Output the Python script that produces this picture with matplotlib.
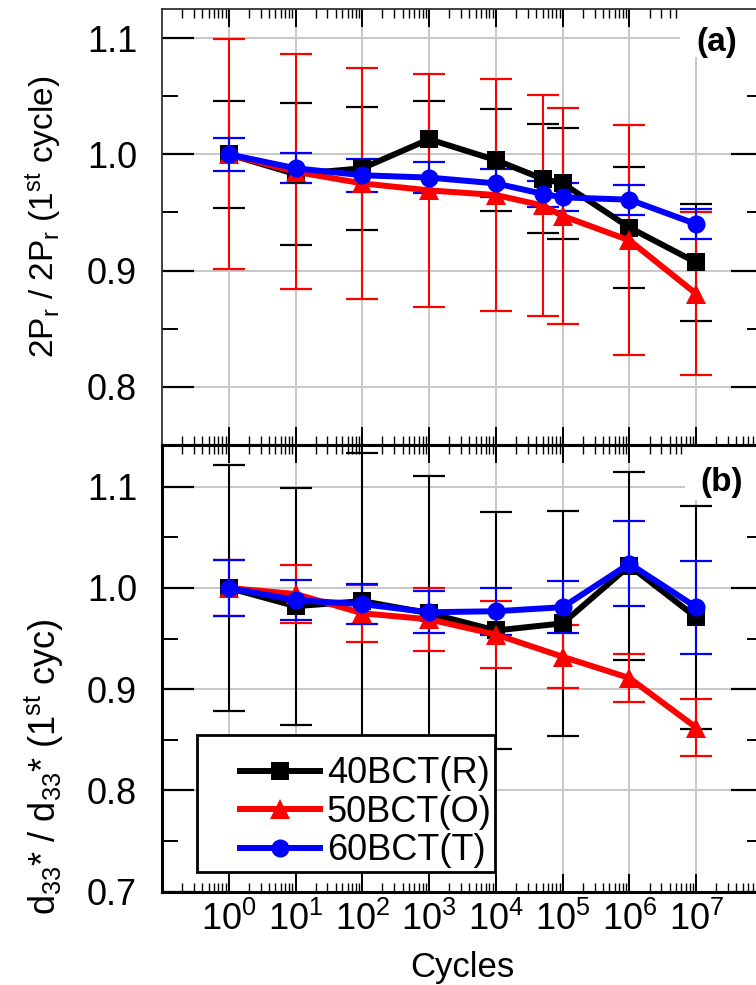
import matplotlib
matplotlib.use('Agg')
import matplotlib.pyplot as plt
from matplotlib.ticker import LogLocator, MultipleLocator, NullFormatter, LogFormatterSciNotation
from matplotlib.patches import Rectangle
from matplotlib.legend_handler import HandlerLine2D

plt.rcParams['font.family'] = ['Liberation Sans', 'DejaVu Sans']
plt.rcParams['mathtext.fontset'] = 'custom'
plt.rcParams['mathtext.rm'] = 'Liberation Sans'
plt.rcParams['mathtext.it'] = 'Liberation Sans:italic'
plt.rcParams['mathtext.bf'] = 'Liberation Sans:bold'
plt.rcParams['mathtext.default'] = 'regular'

# ---------------- data ----------------
series_names = ['40BCT(R)', '50BCT(O)', '60BCT(T)']
series_colors = ['black', 'red', 'blue']
series_markers = ['s', '^', 'o']

cycles_a = [1, 10, 100, 1e3, 1e4, 5e4, 1e5, 1e6, 1e7]
pr_40 = [1.000, 0.983, 0.988, 1.013, 0.995, 0.979, 0.975, 0.937, 0.907]
pr_40_err = [0.046, 0.061, 0.053, 0.033, 0.044, 0.047, 0.048, 0.052, 0.050]
pr_50 = [1.000, 0.985, 0.975, 0.969, 0.965, 0.956, 0.947, 0.926, 0.880]
pr_50_err = [0.099, 0.101, 0.099, 0.100, 0.100, 0.095, 0.093, 0.099, 0.070]
pr_60 = [1.000, 0.988, 0.982, 0.980, 0.975, 0.966, 0.963, 0.961, 0.940]
pr_60_err = [0.014, 0.013, 0.014, 0.013, 0.012, 0.011, 0.012, 0.013, 0.013]

cycles_b = [1, 10, 100, 1e3, 1e4, 1e5, 1e6, 1e7]
d_40 = [1.000, 0.982, 0.987, 0.975, 0.958, 0.965, 1.022, 0.971]
d_40_err = [0.122, 0.117, 0.146, 0.136, 0.117, 0.111, 0.093, 0.110]
d_50 = [1.000, 0.994, 0.975, 0.969, 0.954, 0.932, 0.911, 0.862]
d_50_err = [0.028, 0.029, 0.028, 0.031, 0.033, 0.031, 0.024, 0.028]
d_60 = [1.000, 0.988, 0.984, 0.976, 0.977, 0.981, 1.024, 0.981]
d_60_err = [0.028, 0.020, 0.020, 0.021, 0.023, 0.026, 0.042, 0.046]

xticks = [1, 10, 100, 1e3, 1e4, 1e5, 1e6, 1e7]

# ---------------- figure ----------------
W, H = 756, 985
fig = plt.figure(figsize=(W / 100, H / 100), dpi=100)

def px_axes(left, right, top, bottom):
    return [left / W, (H - bottom) / H, (right - left) / W, (bottom - top) / H]

ax1 = fig.add_axes(px_axes(162, 763, 9, 445))
ax2 = fig.add_axes(px_axes(162, 763, 445, 891.5))

def style_axis(ax, ylim, spine_color, spine_lw):
    ax.set_xscale('log')
    ax.set_xlim(1e-1, 1e8)
    ax.set_ylim(*ylim)
    ax.set_xticks(xticks)
    ax.xaxis.set_major_formatter(LogFormatterSciNotation())
    ax.xaxis.set_minor_locator(LogLocator(base=10, subs=[2, 3, 4, 5, 6, 7, 8, 9], numticks=30))
    ax.xaxis.set_minor_formatter(NullFormatter())
    ax.yaxis.set_major_locator(MultipleLocator(0.1))
    ax.yaxis.set_minor_locator(MultipleLocator(0.05))
    ax.tick_params(axis='both', which='both', direction='in', top=True, right=True,
                   color='black', labelsize=26)
    ax.tick_params(axis='y', which='major', length=23, width=1.6, pad=18)
    ax.tick_params(axis='y', which='minor', length=11.5, width=1.4)
    ax.tick_params(axis='x', which='major', length=13, width=1.4, pad=7.5)
    ax.tick_params(axis='x', which='minor', length=6.5, width=1.0)
    ax.grid(True, which='major', color='#c8c8c8', linewidth=1.4)
    ax.set_axisbelow(True)
    for s in ax.spines.values():
        s.set_color(spine_color)
        s.set_linewidth(spine_lw)

style_axis(ax1, (0.75, 1.125), '#303030', 1.3)
style_axis(ax2, (0.70, 1.1413), 'black', 2.2)
ax1.tick_params(axis='x', labelbottom=False)
ax1.spines['bottom'].set_linewidth(2.2)
ax1.spines['bottom'].set_color('black')

def draw(ax, x, ys, errs):
    handles = []
    for y, e, c, m, name in zip(ys, errs, series_colors, series_markers, series_names):
        ax.errorbar(x, y, yerr=e, fmt='none', ecolor=c, elinewidth=1.5,
                    capsize=11.5, capthick=1.6, zorder=2)
        ms = 15 if m == '^' else 13
        h, = ax.plot(x, y, color=c, marker=m, markersize=ms, linewidth=4.3,
                     markeredgewidth=0, label=name, zorder=3)
        handles.append(h)
    return handles

draw(ax1, cycles_a, [pr_40, pr_50, pr_60], [pr_40_err, pr_50_err, pr_60_err])
handles = draw(ax2, cycles_b, [d_40, d_50, d_60], [d_40_err, d_50_err, d_60_err])

# panel labels with white background patches
def panel_label(ax, text, px_left, px_bottom, ax_top_px, ax_bottom_px, tx, ty):
    axh = ax_bottom_px - ax_top_px
    yb = (ax_bottom_px - px_bottom) / axh
    xl = (px_left - 162) / 601
    ax.add_patch(Rectangle((xl, yb), 1.2, 1.0, transform=ax.transAxes,
                           facecolor='white', edgecolor='none', zorder=1, clip_on=True))
    ax.text((tx - 162) / 601, (ax_bottom_px - ty) / axh, text, transform=ax.transAxes,
            fontsize=24, fontweight='bold', ha='center', va='center', zorder=4)

panel_label(ax1, '(a)', 680, 57, 9, 445, 717, 43)
panel_label(ax2, '(b)', 685, 500, 445, 891.5, 722, 482)

# legend
leg = ax2.legend(handles=handles, loc='lower left', bbox_to_anchor=(0.0582, 0.0437),
                 borderaxespad=0, fontsize=26, frameon=True, fancybox=False,
                 edgecolor='black', framealpha=1, borderpad=0.1, labelspacing=0.1,
                 handlelength=3.3, handletextpad=0.2, title=' ', title_fontsize=10,
                 handler_map={h: HandlerLine2D(numpoints=1, xpad=1.1) for h in handles})
leg.get_frame().set_linewidth(2.0)
leg.set_zorder(10)

# axis labels
fig.text(44 / W, (H - 217) / H, '2P$_r$ / 2P$_r$ (1$^{st}$ cycle)', rotation=90,
         ha='center', va='center', fontsize=24)
fig.text(44 / W, (H - 915) / H, 'd$_{33}$* / d$_{33}$* (1$^{st}$ cyc)', rotation=90,
         ha='center', va='bottom', fontsize=26)
ax2.set_xlabel('Cycles', fontsize=25, labelpad=9)

fig.savefig('out.png', dpi=100)
